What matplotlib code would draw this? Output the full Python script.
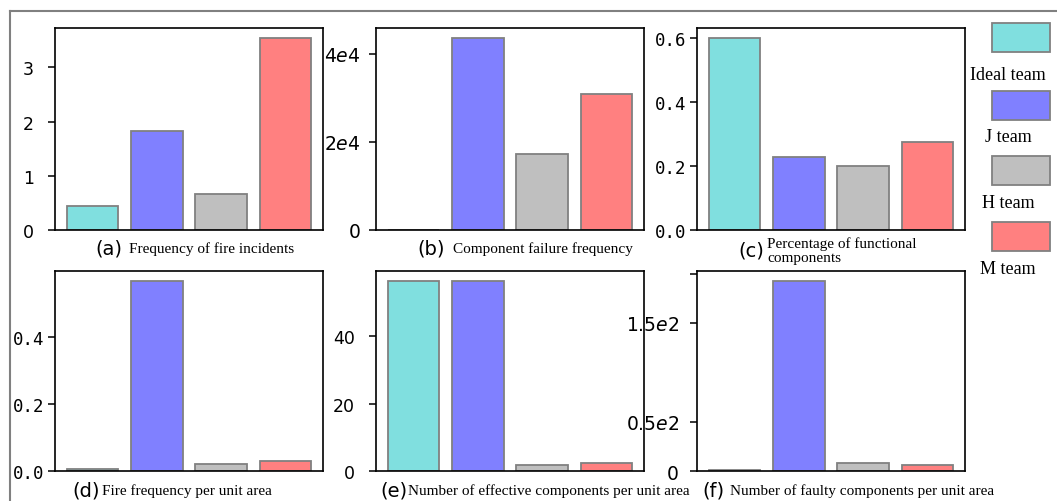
import matplotlib
matplotlib.use('Agg')
import matplotlib.pyplot as plt
from matplotlib.patches import Rectangle
from matplotlib.lines import Line2D

teams = ['Ideal team', 'J team', 'H team', 'M team']
colors = ['#80DFDF', '#8080FF', '#BFBFBF', '#FF8080']

fire_freq = [0.45, 1.83, 0.67, 3.55]
failure_freq = [0, 43700, 17300, 30900]
functional_pct = [0.600, 0.227, 0.199, 0.274]
fire_per_area = [0.007, 0.570, 0.021, 0.030]
effective_per_area = [56.6, 56.6, 1.8, 2.4]
faulty_per_area = [1.0, 193.0, 7.6, 5.6]

captions = ['Frequency of fire incidents', 'Component failure frequency',
            'Percentage of functional\ncomponents', 'Fire frequency per unit area',
            'Number of effective components per unit area',
            'Number of faulty components per unit area']
letters = ['(a)', '(b)', '(c)', '(d)', '(e)', '(f)']

W, H = 1057, 502
fig = plt.figure(figsize=(W / 100, H / 100), dpi=100)

def fx(px):
    return px / W

def fy(py):
    return 1 - py / H

# axes boxes in pixels: left, top, right, bottom
boxes = [(55, 29, 323, 231), (376, 29, 644, 231), (697, 29, 965, 231),
         (55, 272, 323, 472), (376, 272, 644, 472), (697, 272, 965, 472)]
values = [fire_freq, failure_freq, functional_pct, fire_per_area,
          effective_per_area, faulty_per_area]

sans = dict(family='DejaVu Sans', size=12.5)
mono = dict(family='DejaVu Sans Mono', size=12.5)
math = dict(family='DejaVu Sans', size=13.5)
# ticks, labels, font, pad
tick_setup = [
    ([0, 1, 2, 3], ['0', '1', '2', '3'], sans, 10),
    ([0, 20000, 40000], ['$0$', '$2e4$', '$4e4$'], math, 6),
    ([0, 0.2, 0.4, 0.6], ['0.0', '0.2', '0.4', '0.6'], mono, 3),
    ([0, 0.2, 0.4], ['0.0', '0.2', '0.4'], mono, 3),
    ([0, 20, 40], ['0', '20', '40'], sans, 10),
    ([0, 50, 150, 200], ['$0$', '$0.5e2$', '$1.5e2$', ''], math, 8),
]

axes = []
for i, (l, t, r, b) in enumerate(boxes):
    ax = fig.add_axes([fx(l), fy(b), fx(r) - fx(l), (b - t) / H])
    ax.bar(range(4), values[i], color=colors, edgecolor='#808080', linewidth=1.3)
    ax.set_xticks([])
    ticks, labels, font, pad = tick_setup[i]
    ax.set_yticks(ticks)
    ax.set_yticklabels(labels, fontdict=font)
    ax.tick_params(axis='y', length=5, width=1.1, pad=pad)
    for s in ax.spines.values():
        s.set_linewidth(1.2)
    axes.append(ax)

# captions: letter position, description position, y (pixels)
cap_pos = [(95, 129, 249), (417, 453, 249), (738, 767, 251),
           (72, 102, 491), (380, 408, 491), (702, 730, 491)]
for i, (lx, dx, y) in enumerate(cap_pos):
    fig.text(fx(lx), fy(y), letters[i], family='DejaVu Sans', size=14,
             ha='left', va='center')
    fig.text(fx(dx), fy(y), captions[i], family='Liberation Serif', size=11,
             ha='left', va='center', linespacing=1.1)

# legend on the right
box_tops = [24, 92, 157, 223]
label_y = [76, 137, 204, 270]
for i, team in enumerate(teams):
    fig.add_artist(Rectangle((fx(992), fy(box_tops[i] + 29)), fx(1050) - fx(992), 29 / H,
                             transform=fig.transFigure, facecolor=colors[i],
                             edgecolor='#808080', linewidth=1.3))
    fig.text(fx(1008), fy(label_y[i]), team, family='Liberation Serif', size=13,
             ha='center', va='center')

# frame lines
fig.add_artist(Line2D([fx(10), 1], [fy(12), fy(12)], transform=fig.transFigure,
                      color='#808080', linewidth=1.5))
fig.add_artist(Line2D([fx(10), fx(10)], [fy(12), 0], transform=fig.transFigure,
                      color='#808080', linewidth=1.5))

fig.savefig('out.png', dpi=100)
